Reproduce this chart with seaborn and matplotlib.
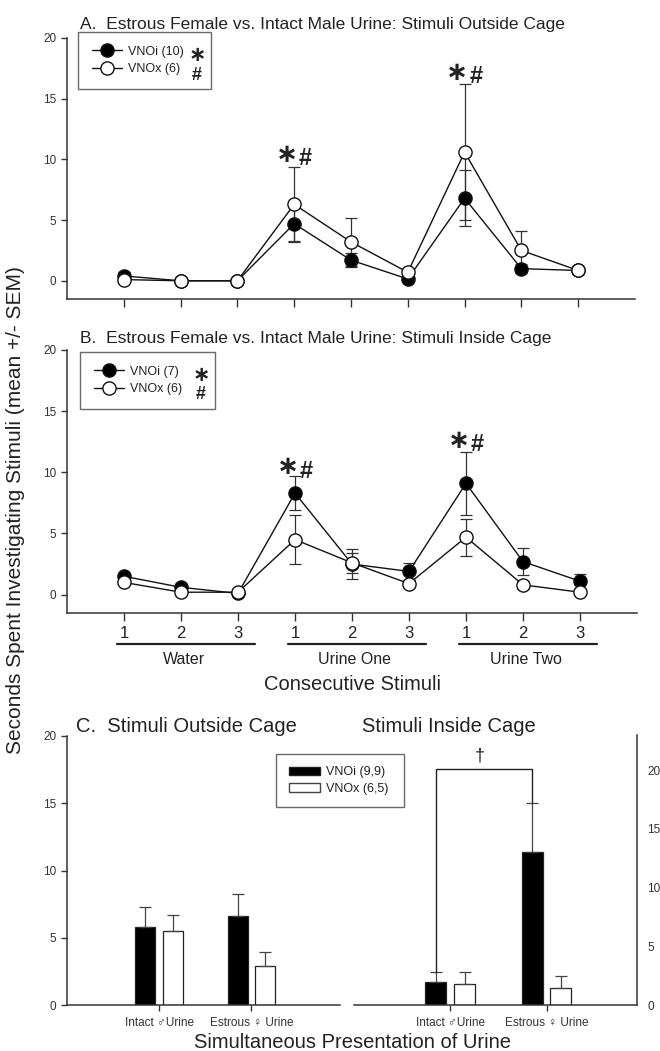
import numpy as np
import pandas as pd
import matplotlib
matplotlib.use("Agg")
import matplotlib.pyplot as plt
import seaborn as sns

sns.set_style("ticks")
plt.rcParams['font.family'] = ['Liberation Sans', 'DejaVu Sans']
plt.rcParams['axes.edgecolor'] = '#333333'
plt.rcParams['text.color'] = '#222222'

# ---- data ----
stimuli = [1, 2, 3, 4, 5, 6, 7, 8, 9]
stim_labels = ["1", "2", "3", "1", "2", "3", "1", "2", "3"]
stim_groups = ["Water", "Urine One", "Urine Two"]

# panel A: stimuli outside cage
a_vnoi = [0.4, 0.0, 0.0, 4.7, 1.7, 0.15, 6.8, 1.0, 0.85]
a_vnoi_sem = [0.3, 0.0, 0.0, 1.4, 0.6, 0.1, 2.3, 0.35, 0.3]
a_vnox = [0.1, 0.0, 0.0, 6.3, 3.2, 0.7, 10.6, 2.5, 0.85]
a_vnox_sem = [0.1, 0.0, 0.0, 3.1, 2.0, 0.3, 5.6, 1.6, 0.3]

# panel B: stimuli inside cage
b_vnoi = [1.5, 0.6, 0.1, 8.3, 2.5, 1.9, 9.1, 2.7, 1.1]
b_vnoi_sem = [0.2, 0.15, 0.1, 1.4, 1.2, 0.7, 2.6, 1.1, 0.6]
b_vnox = [1.0, 0.2, 0.2, 4.5, 2.6, 0.9, 4.7, 0.8, 0.2]
b_vnox_sem = [0.15, 0.1, 0.1, 2.0, 0.8, 0.3, 1.5, 0.3, 0.2]

# panel C: simultaneous presentation
urine_labels = ["Intact \u2642Urine", "Estrous \u2640 Urine"]
c_out_vnoi = [5.8, 6.65]
c_out_vnoi_sem = [1.5, 1.6]
c_out_vnox = [5.5, 2.9]
c_out_vnox_sem = [1.2, 1.05]
c_in_vnoi = [2.0, 13.0]
c_in_vnoi_sem = [0.8, 4.2]
c_in_vnox = [1.8, 1.45]
c_in_vnox_sem = [1.0, 1.05]

W, H = 660, 1051
STAR = "\u2217"


def rect(l, t, r, b):
    return [l / W, 1 - b / H, (r - l) / W, (b - t) / H]


def fx(x):
    return x / W


def fy(y):
    return 1 - y / H


fig = plt.figure(figsize=(6.6, 10.51), dpi=100)


def line_panel(ax, vnoi, vnoi_sem, vnox, vnox_sem, lab_i, lab_x, leg_box, stars):
    ax.errorbar(stimuli, vnoi, yerr=vnoi_sem, fmt='none', ecolor='#333333',
                elinewidth=0.9, capsize=4, capthick=0.9, zorder=1)
    ax.errorbar(stimuli, vnox, yerr=vnox_sem, fmt='none', ecolor='#333333',
                elinewidth=0.9, capsize=4, capthick=0.9, zorder=1)
    sns.lineplot(x=stimuli, y=vnoi, ax=ax, color='#111111', linewidth=1.0,
                 marker='o', markersize=9.5, markerfacecolor='black',
                 markeredgecolor='#111111', markeredgewidth=1.0,
                 label=lab_i, zorder=2)
    sns.lineplot(x=stimuli, y=vnox, ax=ax, color='#111111', linewidth=1.0,
                 marker='o', markersize=9.5, markerfacecolor='white',
                 markeredgecolor='#111111', markeredgewidth=1.0,
                 label=lab_x, zorder=3)
    ax.set_xlim(0, 10)
    ax.set_ylim(-1.5, 20)
    ax.set_yticks([0, 5, 10, 15, 20])
    ax.set_xticks(stimuli)
    ax.tick_params(axis='y', labelsize=8.5, length=4, width=1, colors='#333333')
    ax.tick_params(axis='x', length=6, width=1, colors='#333333')
    sns.despine(ax=ax)
    for s in ['left', 'bottom']:
        ax.spines[s].set_linewidth(1.1)
    ax.set_xlabel("")
    ax.set_ylabel("")
    l, t, r, b = leg_box
    leg = ax.legend(loc='upper left', mode='expand',
                    bbox_to_anchor=(fx(l), fy(b), (r - l) / W, (b - t) / H),
                    bbox_transform=fig.transFigure, borderaxespad=0,
                    fontsize=9, frameon=True, fancybox=False, borderpad=1.1,
                    handlelength=2.4, handletextpad=0.5, labelspacing=0.45)
    leg.get_frame().set_edgecolor('#444444')
    leg.get_frame().set_linewidth(1.0)
    # group symbols next to legend entries
    ax.text(fx(r - 14), fy(t + 23), STAR, transform=fig.transFigure, fontsize=15,
            fontweight='bold', ha='center', va='center', zorder=10,
            family=['DejaVu Sans'])
    ax.text(fx(r - 14), fy(t + 43), "#", transform=fig.transFigure, fontsize=13,
            fontweight='bold', ha='center', va='center', zorder=10)
    # significance marks
    for xi, yv in stars:
        ax.text(xi - 0.13, yv, STAR, fontsize=19, fontweight='bold',
                ha='center', va='center', family=['DejaVu Sans'], zorder=10)
        ax.text(xi + 0.2, yv - 0.3, "#", fontsize=17, fontweight='bold',
                ha='center', va='center', zorder=10)


# ---- panel A ----
ax_a = fig.add_axes(rect(67, 38, 635, 299))
line_panel(ax_a, a_vnoi, a_vnoi_sem, a_vnox, a_vnox_sem,
           "VNOi (10)", "VNOx (6)", (78, 32, 211, 92),
           [(4, 10.4), (7, 17.1)])
ax_a.set_xticklabels([])
fig.text(fx(80), fy(25), "A.  Estrous Female vs. Intact Male Urine: Stimuli Outside Cage",
         fontsize=12.5, va='center', ha='left')

# ---- panel B ----
ax_b = fig.add_axes(rect(67, 350, 637, 613))
line_panel(ax_b, b_vnoi, b_vnoi_sem, b_vnox, b_vnox_sem,
           "VNOi (7)", "VNOx (6)", (80, 352, 215, 413),
           [(4, 10.4), (7, 12.6)])
ax_b.set_xticklabels(stim_labels, fontsize=12, color='#222222')
ax_b.tick_params(axis='x', pad=3, labelcolor='#222222')
fig.text(fx(80), fy(338), "B.  Estrous Female vs. Intact Male Urine: Stimuli Inside Cage",
         fontsize=12.5, va='center', ha='left')

# stimulus group brackets below panel B
tr = ax_b.get_xaxis_transform()
for gi, gname in enumerate(stim_groups):
    xs = stimuli[gi * 3:gi * 3 + 3]
    ax_b.plot([xs[0] - 0.12, xs[-1] + 0.3], [-0.118, -0.118], color='#222222',
              lw=1.6, transform=tr, clip_on=False)
    ax_b.text(np.mean(xs) + 0.05, -0.175, gname, transform=tr, fontsize=11.5,
              ha='center', va='center')
fig.text(fx(352), fy(685), "Consecutive Stimuli", fontsize=14.5, ha='center', va='center')


# ---- panel C ----
def bar_panel(ax, vnoi, vnoi_sem, vnox, vnox_sem):
    df = pd.DataFrame({
        'urine': urine_labels * 2,
        'group': ['VNOi (9,9)'] * 2 + ['VNOx (6,5)'] * 2,
        'val': vnoi + vnox,
    })
    sns.barplot(data=df, x='urine', y='val', hue='group', ax=ax,
                palette=['black', 'white'], edgecolor='#222222', linewidth=0.9,
                width=0.6, gap=0.27, errorbar=None, legend=False)
    for cont, sem in zip(ax.containers, [vnoi_sem, vnox_sem]):
        xs = [p.get_x() + p.get_width() / 2 for p in cont]
        ys = [p.get_height() for p in cont]
        ax.errorbar(xs, ys, yerr=[np.zeros(len(sem)), sem], fmt='none',
                    ecolor='#444444', elinewidth=0.9, capsize=4.5, capthick=0.9)
    ax.set_xlabel("")
    ax.set_ylabel("")
    ax.set_xlim(-1.0, 1.96)
    ax.tick_params(axis='x', labelsize=8.5, length=4, width=1, colors='#333333',
                   pad=5)
    ax.tick_params(axis='y', labelsize=8.5, length=4, width=1, colors='#333333')
    ax.set_yticks([0, 5, 10, 15, 20])


ax_cl = fig.add_axes(rect(67, 736, 340, 1005))
bar_panel(ax_cl, c_out_vnoi, c_out_vnoi_sem, c_out_vnox, c_out_vnox_sem)
ax_cl.set_ylim(0, 20)
sns.despine(ax=ax_cl)

ax_cr = fig.add_axes(rect(354, 735, 637, 1005))
ax_cr.patch.set_visible(False)
bar_panel(ax_cr, c_in_vnoi, c_in_vnoi_sem, c_in_vnox, c_in_vnox_sem)
ax_cr.set_ylim(0, 23)
ax_cr.set_xlim(-1.0, 1.94)
ax_cr.yaxis.tick_right()
sns.despine(ax=ax_cr, left=True, right=False)
for a in (ax_cl, ax_cr):
    for s in ['left', 'bottom', 'right']:
        a.spines[s].set_linewidth(1.1)

# bracket between VNOi bars, inside cage
bars_i = ax_cr.containers[0]
bx = [p.get_x() + p.get_width() / 2 for p in bars_i]
btop = [v + s for v, s in zip(c_in_vnoi, c_in_vnoi_sem)]
level = 20.1
ax_cr.plot([bx[0], bx[0], bx[1], bx[1]], [btop[0], level, level, btop[1]],
           color='#222222', lw=1.0)
ax_cr.text(np.mean(bx) - 0.04, level + 0.35, "\u2020", fontsize=13, ha='center',
           va='bottom')

# legend for panel C
hdl = [plt.Rectangle((0, 0), 1, 1, facecolor='black', edgecolor='#222222'),
       plt.Rectangle((0, 0), 1, 1, facecolor='white', edgecolor='#444444')]
legc = fig.legend(hdl, ['VNOi (9,9)', 'VNOx (6,5)'], loc='upper left', mode='expand',
                  bbox_to_anchor=(fx(276), fy(811), 128 / W, 57 / H),
                  borderaxespad=0, fontsize=9, fancybox=False, borderpad=1.0,
                  handlelength=2.5, handleheight=0.65, handletextpad=0.5,
                  labelspacing=0.35)
legc.get_frame().set_edgecolor('#444444')
legc.get_frame().set_linewidth(1.0)

fig.text(fx(76), fy(727), "C.  Stimuli Outside Cage", fontsize=14.5, va='center')
fig.text(fx(362), fy(727), "Stimuli Inside Cage", fontsize=14.5, va='center')
fig.text(fx(353), fy(1042), "Simultaneous Presentation of Urine", fontsize=14.5,
         ha='center', va='center')

fig.text(fx(16), fy(510), "Seconds Spent Investigating Stimuli (mean +/- SEM)",
         fontsize=15, rotation=90, ha='center', va='center')

fig.savefig("out.png", dpi=100)
